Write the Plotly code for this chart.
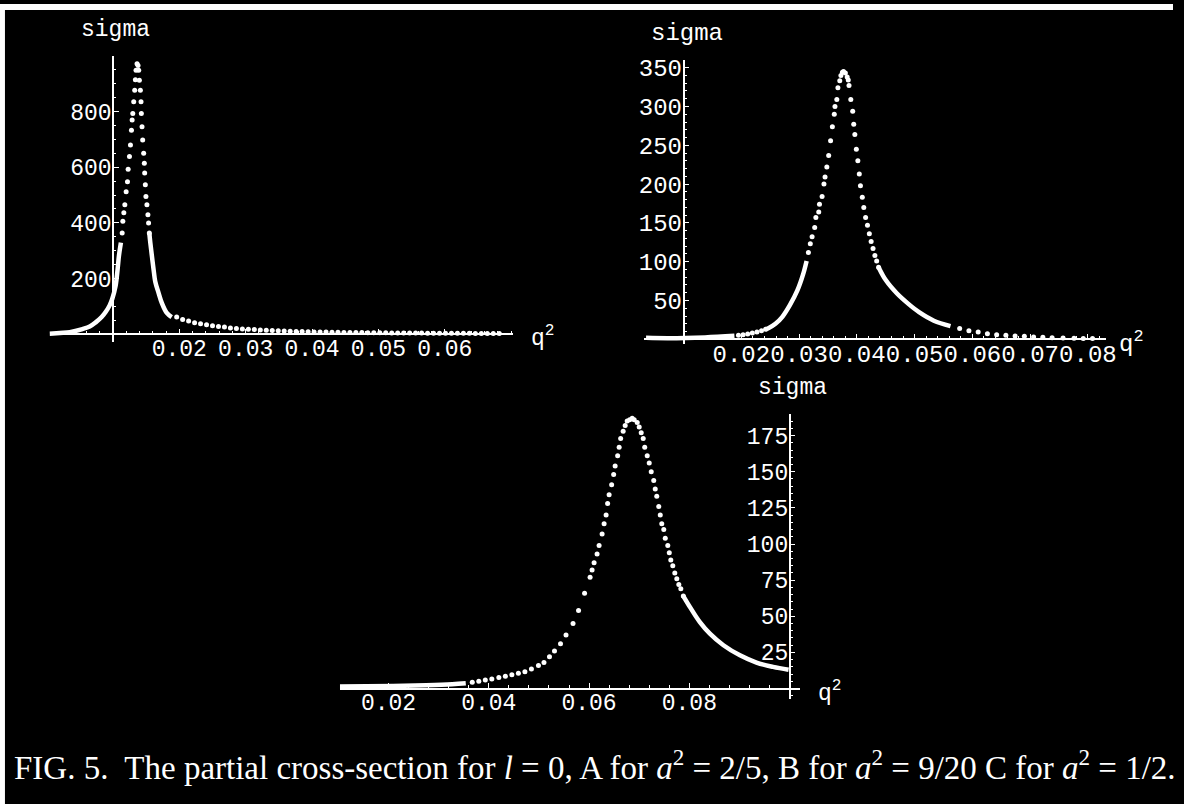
import plotly.graph_objects as go

W, H = 1184, 804

# ---------------- data ----------------
# Panel A  (a^2 = 2/5): sigma vs q^2
a_left_line_q = [0.00045, 0.0020, 0.0035, 0.0054, 0.0065, 0.0074, 0.0083, 0.0089, 0.0095, 0.0099, 0.0104, 0.0107, 0.0109, 0.0112]
a_left_line_s = [2, 5, 8, 19, 28, 43, 62, 80, 104, 128, 174, 233, 281, 329]
a_rise_q = [0.01139, 0.01149, 0.01164, 0.01179, 0.01199, 0.01219, 0.01229, 0.01249, 0.01264, 0.01279, 0.01289, 0.01299, 0.01313, 0.01328, 0.01338, 0.01348, 0.01363]
a_rise_s = [364, 406, 436, 465, 512, 548, 593, 638, 680, 733, 769, 793, 835, 876, 914, 948, 971]
a_fall_q = [0.01378, 0.01388, 0.01398, 0.01413, 0.01423, 0.01428, 0.01438, 0.01448, 0.01463, 0.01473, 0.01478, 0.01488, 0.01497, 0.01512, 0.01527, 0.01537, 0.01548]
a_fall_s = [965, 948, 912, 876, 835, 793, 745, 698, 650, 614, 579, 537, 495, 465, 429, 400, 364]
a_right_line_q = [0.01548, 0.01563, 0.01587, 0.01612, 0.01637, 0.01687, 0.01736, 0.01811, 0.01885]
a_right_line_s = [364, 329, 281, 233, 190, 149, 113, 77, 62]
a_tail_q = [0.0196, 0.0205, 0.0214, 0.0223, 0.0232, 0.0241, 0.0250, 0.0259, 0.0268, 0.0277,
            0.0286, 0.0295, 0.0304, 0.0313, 0.0322, 0.0331, 0.0340, 0.0349, 0.0358, 0.0367,
            0.0376, 0.0385, 0.0394, 0.0403, 0.0412, 0.0421, 0.0430, 0.0439, 0.0448, 0.0457,
            0.0466, 0.0475, 0.0484, 0.0493, 0.0502, 0.0511, 0.0520, 0.0529, 0.0538, 0.0547,
            0.0556, 0.0565, 0.0574, 0.0583, 0.0592, 0.0601, 0.0610, 0.0619, 0.0628, 0.0637,
            0.0646, 0.0655, 0.0664, 0.0673, 0.0682]
a_tail_s = [62, 53, 48, 42, 38, 34, 31, 28, 26, 23,
            21, 19.5, 18, 17, 15.5, 14.5, 13.5, 12.5, 11.8, 11,
            10.4, 9.8, 9.3, 8.8, 8.4, 8, 7.6, 7.3, 7, 6.7,
            6.4, 6.2, 5.9, 5.7, 5.5, 5.3, 5.1, 5, 4.8, 4.6,
            4.5, 4.4, 4.2, 4.1, 4, 3.9, 3.8, 3.7, 3.6, 3.5,
            3.4, 3.3, 3.2, 3.1, 3]
a_xticks = [0.02, 0.03, 0.04, 0.05, 0.06]
a_xlabels = ["0.02", "0.03", "0.04", "0.05", "0.06"]
a_yticks = [200, 400, 600, 800]
a_ylabels = ["200", "400", "600", "800"]

# Panel B  (a^2 = 9/20)
b_line1_q = [0.0035, 0.0073, 0.0137, 0.0188]
b_line1_s = [2, 1.5, 2.5, 4.5]
b_dots1_q = [0.0195, 0.0203, 0.0211, 0.0219, 0.0227, 0.0235, 0.0242]
b_dots1_s = [5.2, 6, 7, 8, 9.5, 11, 13]
b_line2_q = [0.0242, 0.0246, 0.0259, 0.0271, 0.0284, 0.0297, 0.0307, 0.0313]
b_line2_s = [13, 14, 20, 29, 44, 63, 84, 101]
b_rise_q = [0.03161, 0.03194, 0.03225, 0.03270, 0.03290, 0.03340, 0.03353, 0.03398, 0.03430, 0.03449,
            0.03480, 0.03512, 0.03545, 0.03576, 0.03609, 0.03621, 0.03653, 0.03672, 0.03704, 0.03724,
            0.03750, 0.03769]
b_rise_s = [112, 123, 132, 144, 157, 164, 174, 184, 200, 209,
            222, 237, 256, 274, 290, 300, 309, 324, 333, 340,
            344, 345]
b_fall_q = [0.03801, 0.03832, 0.03851, 0.03864, 0.03895, 0.03928, 0.03946, 0.03965, 0.03991, 0.04017,
            0.04042, 0.04062, 0.04094, 0.04120, 0.04151, 0.04184, 0.04216, 0.04247, 0.04280, 0.04312,
            0.04343, 0.04376]
b_fall_s = [343, 338, 334, 327, 309, 294, 277, 264, 245, 230,
            213, 198, 183, 170, 157, 147, 136, 126, 117, 108,
            101, 93]
b_line3_q = [0.04376, 0.04503, 0.04695, 0.04887, 0.05077, 0.05333, 0.05621]
b_line3_s = [93, 76, 59, 46, 35, 24, 17]
b_tail_q = [0.0578, 0.0594, 0.0610, 0.0626, 0.0642, 0.0658, 0.0674, 0.0690, 0.0706, 0.0722,
            0.0738, 0.0757, 0.0776, 0.0792, 0.0808]
b_tail_s = [14, 11, 9.4, 7.3, 6, 5.1, 4.3, 3.9, 3, 2.6,
            2.1, 1.7, 1.3, 0.9, 0.9]
b_xticks = [0.02, 0.03, 0.04, 0.05, 0.06, 0.07, 0.08]
b_xlabels = ["0.02", "0.03", "0.04", "0.05", "0.06", "0.07", "0.08"]
b_yticks = [50, 100, 150, 200, 250, 300, 350]
b_ylabels = ["50", "100", "150", "200", "250", "300", "350"]

# Panel C  (a^2 = 1/2)
c_line1_q = [0.0103, 0.0209, 0.0275, 0.0327, 0.0354]
c_line1_s = [1.4, 1.8, 2.3, 3, 3.7]
c_rise_q = [0.0367, 0.0380, 0.0393, 0.0406, 0.0420, 0.0433, 0.0446, 0.0459, 0.0472, 0.0485,
            0.0499, 0.0510, 0.0521, 0.0531, 0.0543, 0.0554, 0.0568, 0.0579, 0.0591, 0.0602,
            0.0606, 0.0610, 0.0616, 0.0620, 0.0626, 0.0630, 0.0634, 0.0637, 0.0640, 0.0645,
            0.0649, 0.0652, 0.0657, 0.0660, 0.0663, 0.0668, 0.0672, 0.0676, 0.0681, 0.0686]
c_rise_s = [4.4, 5.0, 6, 6.7, 7.6, 8.5, 9.5, 10.6, 11.7, 13.5,
            16, 18, 22, 26, 31, 37, 45, 54, 66, 77,
            82, 87, 93, 99, 107, 114, 120, 128, 134, 141,
            148, 154, 161, 167, 173, 178, 182, 185, 186, 187]
c_fall_q = [0.0690, 0.0696, 0.0700, 0.0704, 0.0708, 0.0711, 0.0716, 0.0720, 0.0724, 0.0729,
            0.0732, 0.0735, 0.0739, 0.0742, 0.0745, 0.0749, 0.0752, 0.0757, 0.0760, 0.0763,
            0.0767, 0.0771, 0.0775, 0.0779, 0.0783, 0.0788]
c_fall_s = [186, 184, 181, 177, 173, 167, 161, 156, 150, 144,
            138, 133, 126, 120, 114, 110, 104, 99, 94, 89,
            85, 80, 76, 72, 69, 64]
c_line2_q = [0.0788, 0.0802, 0.0821, 0.0841, 0.0868, 0.0901, 0.0934, 0.0967, 0.0998]
c_line2_s = [64, 56, 46, 38, 30, 23, 18, 15, 13]
c_xticks = [0.02, 0.04, 0.06, 0.08]
c_xlabels = ["0.02", "0.04", "0.06", "0.08"]
c_yticks = [25, 50, 75, 100, 125, 150, 175]
c_ylabels = ["25", "50", "75", "100", "125", "150", "175"]

caption = ("FIG. 5.&nbsp; The partial cross-section for <i>l</i> = 0, A for <i>a</i><sup>2</sup> = 2/5, "
           "B for <i>a</i><sup>2</sup> = 9/20 C for <i>a</i><sup>2</sup> = 1/2.")

# ---------------- layout geometry (pixels of the 1184x804 page) ----------------
# ox/oy: pixel of the axes origin; q0: q^2 value at the y-axis; sx, sy: pixels per unit
GEOM = {
    "A": dict(ox=114, oy=332, q0=0.01, sx=6700, sy=0.28, xl=50, xr=518, yb=340, yt=52,
              fs=23, xminor=0.002, yminor=50, ax="x", ay="y", qshift=16),
    "B": dict(ox=690, oy=337, q0=0.01, sx=5830, sy=0.78, xl=650, xr=1116, yb=342, yt=56,
              fs=24, xminor=0.002, yminor=10, ax="x2", ay="y2", qshift=11),
    "C": dict(ox=797, oy=688, q0=0.10, sx=5060, sy=1.453, xl=343, xr=807, yb=698, yt=412,
              fs=23, xminor=0.004, yminor=5, ax="x3", ay="y3", qshift=16),
}
TICKFONT = "Liberation Mono, Courier New, monospace"
WHITE = "#ffffff"

fig = go.Figure()


def add_dots(g, q, s):
    fig.add_trace(go.Scatter(x=q, y=s, mode="markers", xaxis=g["ax"], yaxis=g["ay"],
                             marker=dict(color=WHITE, size=5, line=dict(width=0)),
                             cliponaxis=False, hoverinfo="skip", showlegend=False))


def add_line(g, q, s):
    fig.add_trace(go.Scatter(x=q, y=s, mode="lines", xaxis=g["ax"], yaxis=g["ay"],
                             line=dict(color=WHITE, width=4.5, shape="spline"),
                             cliponaxis=False, hoverinfo="skip", showlegend=False))


gA, gB, gC = GEOM["A"], GEOM["B"], GEOM["C"]
add_line(gA, a_left_line_q, a_left_line_s)
add_dots(gA, a_rise_q, a_rise_s)
add_dots(gA, a_fall_q, a_fall_s)
add_line(gA, a_right_line_q, a_right_line_s)
add_dots(gA, a_tail_q, a_tail_s)

add_line(gB, b_line1_q, b_line1_s)
add_dots(gB, b_dots1_q, b_dots1_s)
add_line(gB, b_line2_q, b_line2_s)
add_dots(gB, b_rise_q, b_rise_s)
add_dots(gB, b_fall_q, b_fall_s)
add_line(gB, b_line3_q, b_line3_s)
add_dots(gB, b_tail_q, b_tail_s)

add_line(gC, c_line1_q, c_line1_s)
add_dots(gC, c_rise_q, c_rise_s)
add_dots(gC, c_fall_q, c_fall_s)
add_line(gC, c_line2_q, c_line2_s)

ticks = {
    "A": (a_xticks, a_xlabels, a_yticks, a_ylabels),
    "B": (b_xticks, b_xlabels, b_yticks, b_ylabels),
    "C": (c_xticks, c_xlabels, c_yticks, c_ylabels),
}

layout_axes = {}
annotations = []
for key, g in GEOM.items():
    xt, xl, yt, yl = ticks[key]
    xr = [g["q0"] + (g["xl"] - g["ox"]) / g["sx"], g["q0"] + (g["xr"] - g["ox"]) / g["sx"]]
    yr = [(g["oy"] - g["yb"]) / g["sy"], (g["oy"] - g["yt"]) / g["sy"]]
    font = dict(family=TICKFONT, size=g["fs"], color=WHITE)
    xname = "xaxis" + g["ax"][1:]
    yname = "yaxis" + g["ay"][1:]
    layout_axes[xname] = dict(
        domain=[g["xl"] / W, g["xr"] / W], range=xr, anchor="free", position=1 - g["oy"] / H,
        showline=True, linecolor=WHITE, linewidth=1.5, showgrid=False, zeroline=False,
        ticks="inside", ticklen=5, tickwidth=1.2, tickcolor=WHITE,
        tickmode="array", tickvals=xt, ticktext=xl, tickangle=0, tickfont=font,
        ticklabelstandoff=-7,
        minor=dict(ticks="inside", ticklen=2.5, tickwidth=1, tickcolor=WHITE,
                   tickmode="linear", tick0=0, dtick=g["xminor"], showgrid=False),
        fixedrange=True,
    )
    layout_axes[yname] = dict(
        domain=[1 - g["yb"] / H, 1 - g["yt"] / H], range=yr, anchor="free", position=g["ox"] / W,
        showline=True, linecolor=WHITE, linewidth=1.5, showgrid=False, zeroline=False,
        ticks="inside", ticklen=5, tickwidth=1.2, tickcolor=WHITE,
        tickmode="array", tickvals=yt, ticktext=yl, tickfont=font,
        ticklabelstandoff=-4,
        minor=dict(ticks="inside", ticklen=2.5, tickwidth=1, tickcolor=WHITE,
                   tickmode="linear", tick0=0, dtick=g["yminor"], showgrid=False),
        fixedrange=True,
    )
    # axis labels
    annotations.append(dict(text="sigma", x=g["q0"], y=yr[1], xref=g["ax"], yref=g["ay"],
                            xanchor="center", yanchor="middle", yshift=26, xshift=3, showarrow=False,
                            font=font))
    annotations.append(dict(text="q<sup>2</sup>", x=xr[1], y=0, xref=g["ax"], yref=g["ay"],
                            xanchor="left", yanchor="middle", xshift=g["qshift"], yshift=-3,
                            showarrow=False, font=font))

annotations.append(dict(text=caption, x=12 / W, y=1 - 765 / H, xref="paper", yref="paper",
                        xanchor="left", yanchor="middle", showarrow=False,
                        font=dict(family="Liberation Serif, Times New Roman, serif", size=33, color=WHITE)))

shapes = [
    dict(type="rect", xref="paper", yref="paper", x0=0, x1=5 / W, y0=0, y1=1,
         fillcolor=WHITE, line=dict(width=0), layer="above"),
    dict(type="rect", xref="paper", yref="paper", x0=0, x1=1, y0=1 - 6 / H, y1=1,
         fillcolor=WHITE, line=dict(width=0), layer="above"),
]

fig.update_layout(
    width=W, height=H, margin=dict(l=0, r=0, t=0, b=0, pad=0),
    paper_bgcolor="#000000", plot_bgcolor="#000000",
    showlegend=False, annotations=annotations, shapes=shapes,
    **layout_axes,
)

fig.write_html("out.html", config={"displayModeBar": False})
